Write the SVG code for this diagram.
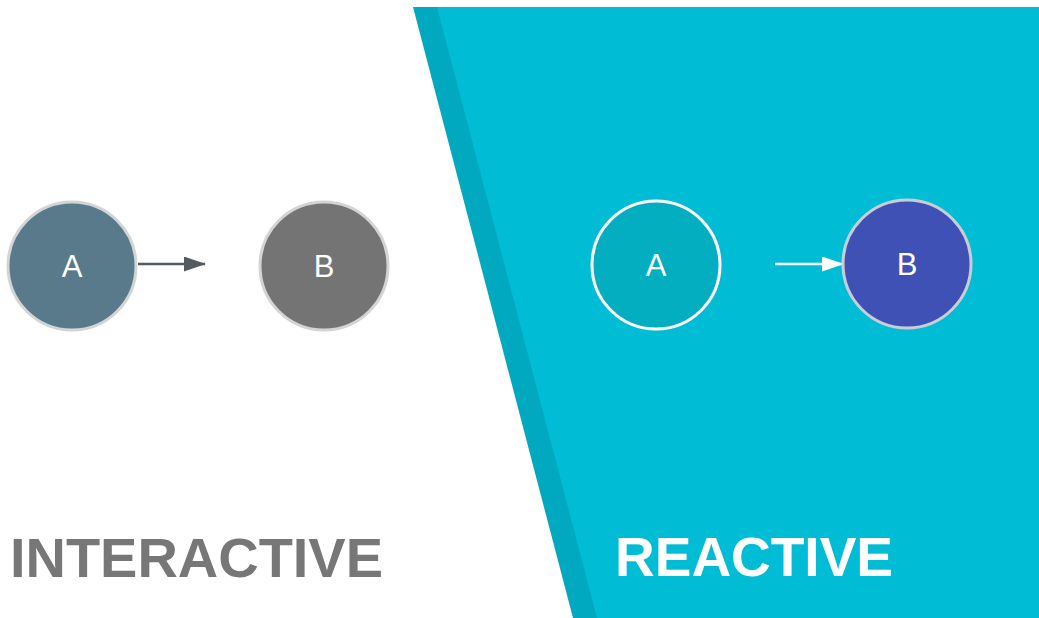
<svg xmlns="http://www.w3.org/2000/svg" width="1039" height="618" viewBox="0 0 1039 618">
  <defs>
    <style>
      .lbl { font-family: "Liberation Sans", Arial, sans-serif; font-size: 31px; fill: #ffffff; text-anchor: middle; }
      .title { font-family: "Liberation Sans", Arial, sans-serif; font-size: 55px; font-weight: bold; }
    </style>
    <marker id="arrGray" markerWidth="22" markerHeight="15" refX="21" refY="7.5" orient="auto" markerUnits="userSpaceOnUse">
      <path d="M0,0 L22,7.5 L0,15 Z" fill="#555a5e"/>
    </marker>
    <marker id="arrWhite" markerWidth="22" markerHeight="15" refX="21" refY="7.5" orient="auto" markerUnits="userSpaceOnUse">
      <path d="M0,0 L22,7.5 L0,15 Z" fill="#ffffff"/>
    </marker>
  </defs>
  <rect x="0" y="0" width="1039" height="618" fill="#ffffff"/>
  <!-- cyan panel with darker band -->
  <polygon points="413,7 1039,7 1039,618 573,618" fill="#00A9BF"/>
  <polygon points="437,7 1039,7 1039,618 597,618" fill="#00BCD4"/>

  <g id="connectors">
    <line x1="138" y1="264" x2="205" y2="264" stroke="#555a5e" stroke-width="2.5" marker-end="url(#arrGray)"/>
    <line x1="775" y1="264" x2="843" y2="264" stroke="#ffffff" stroke-width="2.5" marker-end="url(#arrWhite)"/>
  </g>

  <g id="node-int-A">
    <circle cx="72" cy="266" r="64" fill="#587A8B" stroke="#d2d4d5" stroke-width="3"/>
    <text class="lbl" x="72" y="277">A</text>
  </g>
  <g id="node-int-B">
    <circle cx="324" cy="266" r="64" fill="#747474" stroke="#d4d4d4" stroke-width="3"/>
    <text class="lbl" x="324" y="277">B</text>
  </g>
  <g id="node-rea-A">
    <circle cx="656" cy="265" r="64" fill="#04AEC1" stroke="#ffffff" stroke-width="3"/>
    <text class="lbl" x="656" y="276">A</text>
  </g>
  <g id="node-rea-B">
    <circle cx="907" cy="264" r="64" fill="#3F51B5" stroke="#c9cdd6" stroke-width="3"/>
    <text class="lbl" x="907" y="275">B</text>
  </g>

  <g id="titles">
    <text class="title" x="10" y="577" fill="#777777" textLength="373" lengthAdjust="spacingAndGlyphs">INTERACTIVE</text>
    <text class="title" x="615" y="576" fill="#ffffff" textLength="278" lengthAdjust="spacingAndGlyphs">REACTIVE</text>
  </g>
</svg>
